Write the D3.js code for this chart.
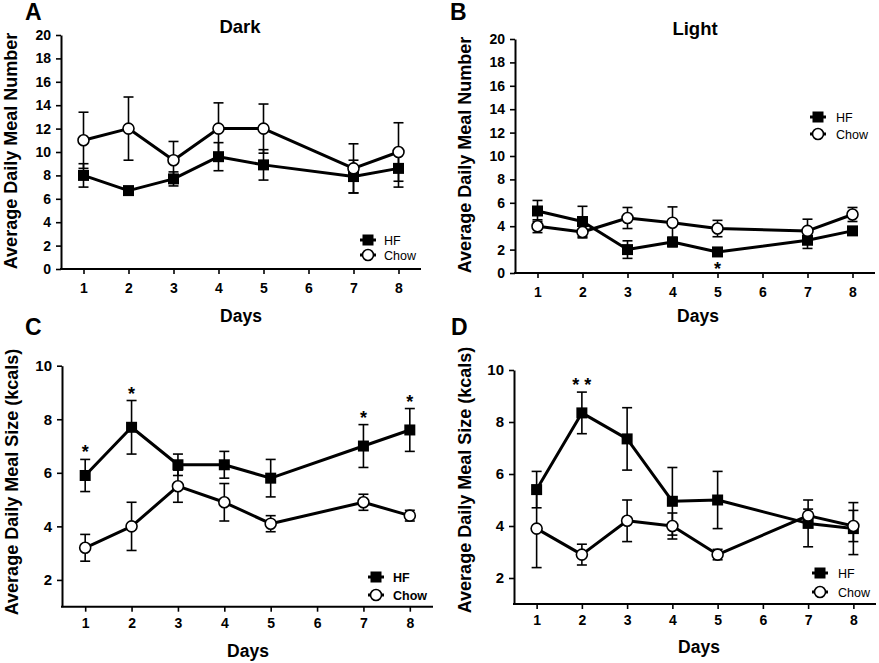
<!DOCTYPE html>
<html>
<head>
<meta charset="utf-8">
<script src="https://cdn.jsdelivr.net/npm/d3@7"></script>
<style>
  html, body { margin: 0; padding: 0; background: #fff; }
  svg { display: block; font-family: "Liberation Sans", Arial, sans-serif; }
</style>
</head>
<body>
<svg id="chart" width="879" height="663"></svg>
<script>
// ---------------- DATA ----------------
const days = [1, 2, 3, 4, 5, 7, 8];
const dayTicks = [1, 2, 3, 4, 5, 6, 7, 8];
const numberTicks = [0, 2, 4, 6, 8, 10, 12, 14, 16, 18, 20];
const sizeTicks = [2, 4, 6, 8, 10];
const seriesNames = ["HF", "Chow"];

// A: Dark, meal number
const darkNumHF      = [8.0, 6.7, 7.7, 9.6, 8.9, 7.9, 8.6];
const darkNumHFErr   = [1.0, 0.3, 0.6, 1.2, 1.3, 1.4, 1.6];
const darkNumChow    = [11.0, 12.0, 9.3, 12.0, 12.0, 8.6, 10.0];
const darkNumChowErr = [2.4, 2.7, 1.6, 2.2, 2.1, 2.1, 2.5];
const darkNumStars   = ["", "", "", "", "", "", ""];

// B: Light, meal number
const lightNumHF      = [5.3, 4.4, 2.0, 2.65, 1.8, 2.8, 3.6];
const lightNumHFErr   = [0.9, 1.3, 0.75, 0.4, 0.3, 0.7, 0.3];
const lightNumChow    = [4.0, 3.5, 4.7, 4.3, 3.8, 3.6, 5.0];
const lightNumChowErr = [0.55, 0.5, 0.9, 1.35, 0.7, 1.0, 0.6];
const lightNumStars   = ["", "", "", "", "*", "", ""];

// C: Dark, meal size (kcals)
const darkSizeHF      = [5.9, 7.7, 6.3, 6.3, 5.8, 7.0, 7.6];
const darkSizeHFErr   = [0.6, 1.0, 0.4, 0.5, 0.7, 0.8, 0.8];
const darkSizeChow    = [3.2, 4.0, 5.5, 4.9, 4.1, 4.9, 4.4];
const darkSizeChowErr = [0.5, 0.9, 0.6, 0.7, 0.3, 0.3, 0.2];
const darkSizeStars   = ["*", "*", "", "", "", "*", "*"];

// D: Light, meal size (kcals)
const lightSizeHF      = [5.4, 8.35, 7.35, 4.95, 5.0, 4.1, 3.9];
const lightSizeHFErr   = [0.7, 0.8, 1.2, 1.3, 1.1, 0.9, 1.0];
const lightSizeChow    = [3.9, 2.9, 4.2, 4.0, 2.9, 4.4, 4.0];
const lightSizeChowErr = [1.5, 0.4, 0.8, 0.5, 0.2, 0.25, 0.6];
const lightSizeStars   = ["", "**", "", "", "", "", ""];

// ---------------- LAYOUT ----------------
const FONT = '"Liberation Sans", Arial, sans-serif';
const svg = d3.select("#chart");

const panels = [
  { letter: "A", lx: 25, ly: 20, title: "Dark", tx: 240, ty: 33,
    x0: 61, x1: 421, y0: 269, y1: 35, dom: [0, 20], yt: numberTicks,
    ylab: "Average Daily Meal Number", ylx: 17, yly: 151,
    xlabY: 322, xlabX: 241, tickFont: 14, yTickFont: 14, tickW: "bold", xPad: 9,
    leg: { x: 368, y: 240, dy: 15, tx: 384, weight: "normal" },
    hf: darkNumHF, hfE: darkNumHFErr, ch: darkNumChow, chE: darkNumChowErr, stars: darkNumStars, starBelow: false },
  { letter: "B", lx: 450, ly: 19.5, title: "Light", tx: 695, ty: 35,
    x0: 515, x1: 875, y0: 273, y1: 39, dom: [0, 20], yt: numberTicks,
    ylab: "Average Daily Meal Number", ylx: 471, yly: 155,
    xlabY: 322, xlabX: 698, tickFont: 14, yTickFont: 14, tickW: "bold", xPad: 9,
    leg: { x: 818, y: 117, dy: 17, tx: 836, weight: "normal" },
    hf: lightNumHF, hfE: lightNumHFErr, ch: lightNumChow, chE: lightNumChowErr, stars: lightNumStars, starBelow: true },
  { letter: "C", lx: 25, ly: 335, title: "", tx: 0, ty: 0,
    x0: 62, x1: 433, y0: 606.7, y1: 365.7, dom: [1, 10], yt: sizeTicks,
    ylab: "Average Daily Meal Size (kcals)", ylx: 18, yly: 482,
    xlabY: 657, xlabX: 248, tickFont: 14, yTickFont: 15, tickW: "bold", xPad: 6,
    leg: { x: 376, y: 577, dy: 18, tx: 393, weight: "bold" },
    hf: darkSizeHF, hfE: darkSizeHFErr, ch: darkSizeChow, chE: darkSizeChowErr, stars: darkSizeStars, starBelow: false },
  { letter: "D", lx: 451, ly: 335, title: "", tx: 0, ty: 0,
    x0: 514, x1: 876, y0: 604, y1: 370, dom: [1, 10], yt: sizeTicks,
    ylab: "Average Daily Meal Size (kcals)", ylx: 471, yly: 480,
    xlabY: 653, xlabX: 699, tickFont: 14, yTickFont: 15, tickW: "bold", xPad: 6,
    leg: { x: 820, y: 573, dy: 19, tx: 838, weight: "normal" },
    hf: lightSizeHF, hfE: lightSizeHFErr, ch: lightSizeChow, chE: lightSizeChowErr, stars: lightSizeStars, starBelow: false }
];

function drawPanel(p) {
  const g = svg.append("g");
  const x = d3.scaleLinear().domain([0.5, 8.5]).range([p.x0, p.x1]);
  const y = d3.scaleLinear().domain(p.dom).range([p.y0, p.y1]);

  // axes
  const xAxis = d3.axisBottom(x).tickValues(dayTicks).tickFormat(d3.format("d"))
    .tickSize(5).tickSizeOuter(0).tickPadding(p.xPad);
  const yAxis = d3.axisLeft(y).tickValues(p.yt).tickFormat(d3.format("d"))
    .tickSize(5).tickSizeOuter(0).tickPadding(5);

  const gx = g.append("g").attr("transform", `translate(0,${p.y0})`).call(xAxis);
  const gy = g.append("g").attr("transform", `translate(${p.x0},0)`).call(yAxis);
  [gx, gy].forEach(a => {
    a.select(".domain").attr("stroke", "#000").attr("stroke-width", 2);
    a.selectAll(".tick line").attr("stroke", "#000").attr("stroke-width", 1.6);
  });
  gx.selectAll(".tick text").attr("font-family", FONT).attr("font-size", p.tickFont)
    .attr("font-weight", p.tickW).attr("fill", "#000");
  gy.selectAll(".tick text").attr("font-family", FONT).attr("font-size", p.yTickFont)
    .attr("font-weight", p.tickW).attr("fill", "#000");
  gx.select(".domain").attr("d", `M${p.x0 - 1},0H${p.x1}`);

  // panel letter
  g.append("text").attr("x", p.lx).attr("y", p.ly).text(p.letter)
    .attr("font-family", FONT).attr("font-size", 23).attr("font-weight", "bold");
  if (p.title) {
    g.append("text").attr("x", p.tx).attr("y", p.ty).attr("text-anchor", "middle")
      .text(p.title).attr("font-family", FONT).attr("font-size", 18.5).attr("font-weight", "bold");
  }
  // axis titles
  g.append("text").attr("transform", `translate(${p.ylx},${p.yly}) rotate(-90)`)
    .attr("text-anchor", "middle").text(p.ylab)
    .attr("font-family", FONT).attr("font-size", 18).attr("font-weight", "bold");
  g.append("text").attr("x", p.xlabX).attr("y", p.xlabY).attr("text-anchor", "middle")
    .text("Days").attr("font-family", FONT).attr("font-size", 17.5).attr("font-weight", "bold");

  const series = [
    { name: seriesNames[0], v: p.hf, e: p.hfE, type: "square" },
    { name: seriesNames[1], v: p.ch, e: p.chE, type: "circle" }
  ];
  const cap = 5;

  // error bars
  series.forEach(s => {
    const eg = g.append("g").attr("stroke", "#000").attr("stroke-width", 1.6).attr("fill", "none");
    days.forEach((d, i) => {
      const xc = x(d), yt = y(s.v[i] + s.e[i]), yb = y(s.v[i] - s.e[i]);
      eg.append("line").attr("x1", xc).attr("x2", xc).attr("y1", yt).attr("y2", yb);
      eg.append("line").attr("x1", xc - cap).attr("x2", xc + cap).attr("y1", yt).attr("y2", yt);
      eg.append("line").attr("x1", xc - cap).attr("x2", xc + cap).attr("y1", yb).attr("y2", yb);
    });
  });

  // lines
  const line = d3.line().x((d, i) => x(days[i])).y(d => y(d));
  series.forEach(s => {
    g.append("path").datum(s.v).attr("d", line)
      .attr("fill", "none").attr("stroke", "#000").attr("stroke-width", 3)
      .attr("stroke-linejoin", "round");
  });

  // markers
  const sq = 11, r = 5.5;
  g.append("g").selectAll("rect").data(p.hf).join("rect")
    .attr("x", (d, i) => x(days[i]) - sq / 2).attr("y", d => y(d) - sq / 2)
    .attr("width", sq).attr("height", sq).attr("fill", "#000");
  g.append("g").selectAll("circle").data(p.ch).join("circle")
    .attr("cx", (d, i) => x(days[i])).attr("cy", d => y(d)).attr("r", r)
    .attr("fill", "#fff").attr("stroke", "#000").attr("stroke-width", 1.6);

  // significance stars (HF series)
  p.stars.forEach((st, i) => {
    if (!st) return;
    const xc = x(days[i]);
    let yc;
    if (p.starBelow) yc = y(p.hf[i] - p.hfE[i]) + 10;
    else yc = y(p.hf[i] + p.hfE[i]) - 11;
    g.append("text").attr("x", xc).attr("y", yc + 10).attr("text-anchor", "middle")
      .text(st.split("").join(" "))
      .attr("font-family", FONT).attr("font-size", 18).attr("font-weight", "bold");
  });

  // legend
  const L = p.leg;
  series.forEach((s, k) => {
    const ly = L.y + k * L.dy;
    g.append("line").attr("x1", L.x - 8).attr("x2", L.x + 8).attr("y1", ly).attr("y2", ly)
      .attr("stroke", "#000").attr("stroke-width", 3);
    if (s.type === "square") {
      g.append("rect").attr("x", L.x - sq / 2).attr("y", ly - sq / 2).attr("width", sq).attr("height", sq).attr("fill", "#000");
    } else {
      g.append("circle").attr("cx", L.x).attr("cy", ly).attr("r", r)
        .attr("fill", "#fff").attr("stroke", "#000").attr("stroke-width", 1.6);
    }
    g.append("text").attr("x", L.tx).attr("y", ly + 4.5).text(s.name)
      .attr("font-family", FONT).attr("font-size", 12.5).attr("font-weight", L.weight);
  });
}

panels.forEach(drawPanel);
</script>
</body>
</html>
